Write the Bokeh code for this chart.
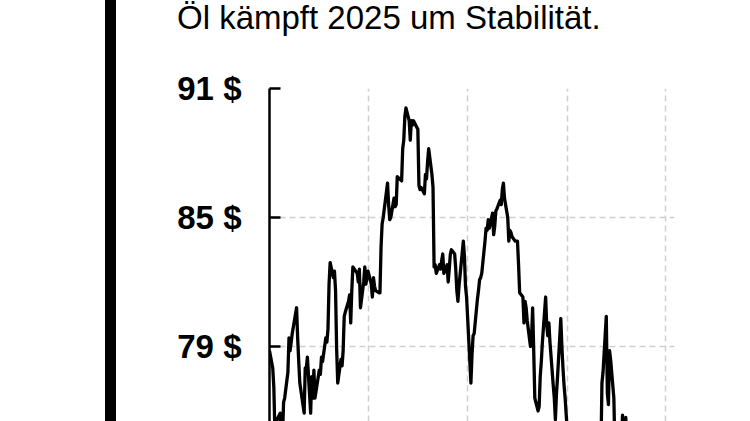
import pandas as pd
from bokeh.plotting import figure
from bokeh.layouts import row, column
from bokeh.models import Range1d, FixedTicker, PrintfTickFormatter, Div, Spacer
from bokeh.embed import file_html
from bokeh.resources import INLINE

title_text = "Öl kämpft 2025 um Stabilität."
y_ticks = [67, 73, 79, 85, 91]
grid_dates = ["2023-12-01", "2024-03-01", "2024-06-01", "2024-09-01", "2024-12-01"]

dates = [
    "2023-12-01", "2023-12-04", "2023-12-05", "2023-12-06", "2023-12-07", "2023-12-08",
    "2023-12-11", "2023-12-12", "2023-12-13", "2023-12-14", "2023-12-15", "2023-12-18",
    "2023-12-19", "2023-12-20", "2023-12-21", "2023-12-22", "2023-12-26", "2023-12-27",
    "2023-12-28", "2023-12-29",
    "2024-01-02", "2024-01-03", "2024-01-04", "2024-01-05", "2024-01-08", "2024-01-09",
    "2024-01-10", "2024-01-11", "2024-01-12", "2024-01-16", "2024-01-17", "2024-01-18",
    "2024-01-19", "2024-01-22", "2024-01-23", "2024-01-24", "2024-01-25", "2024-01-26",
    "2024-01-29", "2024-01-30", "2024-01-31",
    "2024-02-01", "2024-02-02", "2024-02-05", "2024-02-06", "2024-02-07", "2024-02-08",
    "2024-02-09", "2024-02-12", "2024-02-13", "2024-02-14", "2024-02-15", "2024-02-16",
    "2024-02-20", "2024-02-21", "2024-02-22", "2024-02-23", "2024-02-26", "2024-02-27",
    "2024-02-28", "2024-02-29",
    "2024-03-01", "2024-03-04", "2024-03-05", "2024-03-06", "2024-03-07", "2024-03-08",
    "2024-03-11", "2024-03-12", "2024-03-13", "2024-03-14", "2024-03-15", "2024-03-18",
    "2024-03-19", "2024-03-20", "2024-03-21", "2024-03-22", "2024-03-25", "2024-03-26",
    "2024-03-27", "2024-03-28",
    "2024-04-01", "2024-04-02", "2024-04-03", "2024-04-04", "2024-04-05", "2024-04-08",
    "2024-04-09", "2024-04-10", "2024-04-11", "2024-04-12", "2024-04-15", "2024-04-16",
    "2024-04-17", "2024-04-18", "2024-04-19", "2024-04-22", "2024-04-23", "2024-04-24",
    "2024-04-25", "2024-04-26", "2024-04-29", "2024-04-30",
    "2024-05-01", "2024-05-02", "2024-05-03", "2024-05-06", "2024-05-07", "2024-05-08",
    "2024-05-09", "2024-05-10", "2024-05-13", "2024-05-14", "2024-05-15", "2024-05-16",
    "2024-05-17", "2024-05-20", "2024-05-21", "2024-05-22", "2024-05-23", "2024-05-24",
    "2024-05-28", "2024-05-29", "2024-05-30", "2024-05-31",
    "2024-06-03", "2024-06-04", "2024-06-05", "2024-06-06", "2024-06-07", "2024-06-10",
    "2024-06-11", "2024-06-12", "2024-06-13", "2024-06-14", "2024-06-17", "2024-06-18",
    "2024-06-19", "2024-06-20", "2024-06-21", "2024-06-24", "2024-06-25", "2024-06-26",
    "2024-06-27", "2024-06-28",
    "2024-07-01", "2024-07-02", "2024-07-03", "2024-07-04", "2024-07-05", "2024-07-08",
    "2024-07-09", "2024-07-10", "2024-07-11", "2024-07-12", "2024-07-15", "2024-07-16",
    "2024-07-17", "2024-07-18", "2024-07-19", "2024-07-22", "2024-07-23", "2024-07-24",
    "2024-07-25", "2024-07-26", "2024-07-29", "2024-07-30", "2024-07-31",
    "2024-08-01", "2024-08-02", "2024-08-05", "2024-08-06", "2024-08-07", "2024-08-08",
    "2024-08-09", "2024-08-12", "2024-08-13", "2024-08-14", "2024-08-15", "2024-08-16",
    "2024-08-19", "2024-08-20", "2024-08-21", "2024-08-22", "2024-08-23", "2024-08-26",
    "2024-08-27", "2024-08-28", "2024-08-29", "2024-08-30",
    "2024-09-03", "2024-09-04", "2024-09-05", "2024-09-06", "2024-09-09", "2024-09-10",
    "2024-09-11", "2024-09-12", "2024-09-13", "2024-09-16", "2024-09-17", "2024-09-18",
    "2024-09-19", "2024-09-20", "2024-09-23", "2024-09-24", "2024-09-25", "2024-09-26",
    "2024-09-27", "2024-09-30",
    "2024-10-01", "2024-10-02", "2024-10-03", "2024-10-04", "2024-10-07", "2024-10-08",
    "2024-10-09", "2024-10-10", "2024-10-11", "2024-10-14", "2024-10-15", "2024-10-16",
    "2024-10-17", "2024-10-18", "2024-10-21", "2024-10-22", "2024-10-23", "2024-10-24",
    "2024-10-25", "2024-10-28", "2024-10-29", "2024-10-30", "2024-10-31",
    "2024-11-01", "2024-11-04", "2024-11-05", "2024-11-06", "2024-11-07", "2024-11-08",
    "2024-11-11", "2024-11-12", "2024-11-13", "2024-11-14", "2024-11-15", "2024-11-18",
    "2024-11-19", "2024-11-20", "2024-11-21", "2024-11-22", "2024-11-25", "2024-11-26",
    "2024-11-27", "2024-11-29",
    "2024-12-02", "2024-12-03", "2024-12-04", "2024-12-05", "2024-12-06", "2024-12-09",
]

prices = [
    78.8, 78.0, 77.1, 75.0, 74.6, 75.6,
    75.9, 74.0, 74.8, 76.4, 76.6, 77.8,
    79.4, 78.8, 79.2, 79.6, 80.8, 79.4,
    78.3, 77.3,
    75.9, 78.0, 78.0, 78.5, 75.9, 77.6,
    76.6, 77.9, 76.6, 77.9, 77.7, 78.5,
    78.3, 79.4, 79.2, 79.8, 81.9, 82.9,
    82.2, 82.5, 81.6,
    78.9, 77.3, 78.4, 78.1, 78.8, 80.4,
    80.6, 81.1, 81.4, 80.1, 81.6, 82.7,
    82.4, 82.0, 82.6, 80.8, 82.0, 82.7,
    81.9, 82.2,
    82.5, 81.9, 81.3, 82.2, 81.8, 81.6,
    81.5, 81.5, 83.6, 84.7, 85.0, 86.2,
    86.6, 85.6, 84.9, 85.0, 85.9, 85.5,
    85.6, 86.9,
    86.7, 88.2, 88.6, 89.7, 90.1, 89.5,
    88.6, 89.5, 89.3, 89.5, 89.2, 89.1,
    86.5, 86.3, 86.4, 86.1, 87.0, 86.8,
    87.6, 88.2, 87.0, 86.4,
    82.7, 82.8, 82.4, 82.8, 82.6, 83.0,
    83.3, 82.4, 82.8, 82.0, 82.6, 83.3,
    83.5, 83.3, 82.6, 81.6, 81.1, 81.8,
    83.9, 83.2, 81.8, 81.3,
    78.3, 77.3, 78.6, 79.5, 79.6, 81.2,
    81.6, 82.1, 82.2, 82.4, 83.9, 84.5,
    84.4, 84.9, 84.5, 85.2, 84.2, 84.6,
    85.3, 85.4,
    85.8, 85.6, 86.3, 86.6, 85.9, 85.0,
    83.9, 84.4, 84.3, 84.1, 83.9, 83.9,
    83.9, 82.8, 81.5, 81.3, 80.1, 81.1,
    80.8, 80.2, 79.0, 79.4, 80.8,
    78.8, 76.6, 76.0, 76.2, 77.6, 78.3,
    79.2, 81.3, 80.0, 79.5, 80.1, 79.2,
    77.2, 76.6, 75.6, 76.8, 77.6, 80.3,
    79.0, 78.0, 77.2, 76.6,
    73.5, 72.5, 72.4, 71.0, 71.6, 69.0,
    70.4, 71.8, 71.5, 72.5, 73.5, 73.4,
    74.6, 74.3, 74.9, 74.9, 73.2, 71.4,
    71.8, 71.6,
    73.4, 74.0, 77.3, 77.8, 80.4, 76.8,
    76.3, 78.8, 78.4, 76.6, 74.2, 74.2,
    74.4, 73.1, 74.5, 75.8, 75.0, 74.4,
    75.7, 71.4, 71.1, 72.5, 73.0,
    73.0, 74.8, 75.2, 74.6, 75.3, 73.7,
    71.8, 71.8, 72.2, 72.4, 71.0, 73.2,
    73.2, 72.7, 74.1, 75.0, 72.9, 72.7,
    72.7, 72.9,
    71.8, 73.5, 72.2, 72.0, 71.1, 72.1,
]

x = pd.to_datetime(dates)

p = figure(
    width=600, height=361,
    output_backend="svg", toolbar_location=None,
    x_axis_type="datetime",
    x_range=Range1d(pd.Timestamp("2023-12-01"), pd.Timestamp("2024-12-09")),
    y_range=Range1d(75.51, 91),
    min_border_left=153, min_border_right=42, min_border_top=28, min_border_bottom=0,
    margin=0,
)
p.outline_line_color = None
p.background_fill_color = "white"
p.border_fill_color = "white"

# grid
p.xaxis.visible = False
p.xgrid.ticker = FixedTicker(ticks=[pd.Timestamp(d).value / 1e6 for d in grid_dates])
p.grid.grid_line_color = "#cfcfcf"
p.grid.grid_line_dash = "6 4"
p.grid.grid_line_width = 1.5

# y axis
p.yaxis.ticker = FixedTicker(ticks=y_ticks)
p.yaxis.formatter = PrintfTickFormatter(format="%d $")
p.yaxis.axis_line_color = "black"
p.yaxis.axis_line_width = 2.5
p.yaxis.major_tick_in = 11
p.yaxis.major_tick_out = 0
p.yaxis.major_tick_line_width = 2.5
p.yaxis.major_tick_line_color = "black"
p.yaxis.minor_tick_line_color = None
p.yaxis.major_label_standoff = 28
p.yaxis.major_label_text_font = "Liberation Sans"
p.yaxis.major_label_text_font_style = "bold"
p.yaxis.major_label_text_font_size = "33px"
p.yaxis.major_label_text_color = "black"

p.line(x, prices, line_color="black", line_width=3.3, line_join="round")

title = Div(
    text=('<div style="margin:0;padding:0 0 0 61px;font-family:\'Liberation Sans\';'
          'font-size:33px;line-height:1.12;color:black;white-space:nowrap;">'
          + title_text + '</div>'),
    width=600, height=60, margin=0,
)

bar = Div(text="", width=11, height=421, margin=0, styles={"background-color": "black"})
layout = row(Spacer(width=105, height=421, margin=0), bar, column(title, p, spacing=0), spacing=0)

open("out.html", "w").write(file_html(layout, INLINE))
